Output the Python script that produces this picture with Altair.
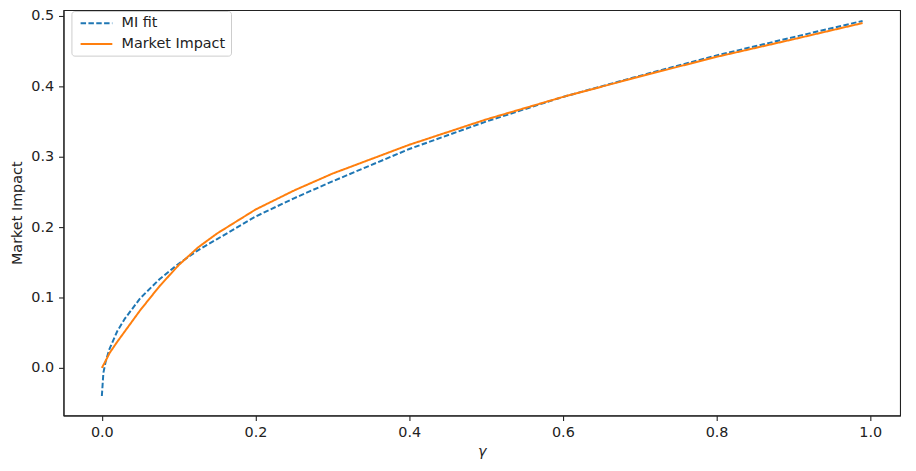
import altair as alt
import pandas as pd

gamma = [0.0, 0.002, 0.005, 0.01, 0.02, 0.03, 0.05, 0.075, 0.1, 0.125, 0.15, 0.2, 0.25, 0.3, 0.4, 0.5, 0.6, 0.7, 0.8, 0.9, 0.99]
mi_fit = [-0.040, -0.007, 0.009, 0.027, 0.052, 0.070, 0.099, 0.126, 0.148, 0.167, 0.183, 0.215, 0.241, 0.265, 0.311, 0.350, 0.385, 0.415, 0.444, 0.470, 0.493]
market_impact = [0.000, 0.004, 0.010, 0.021, 0.037, 0.052, 0.082, 0.116, 0.146, 0.171, 0.191, 0.225, 0.252, 0.276, 0.317, 0.353, 0.385, 0.414, 0.442, 0.467, 0.490]

series_names = ["MI fit", "Market Impact"]
x_ticks = [0.0, 0.2, 0.4, 0.6, 0.8, 1.0]
y_ticks = [0.0, 0.1, 0.2, 0.3, 0.4, 0.5]

rows = []
for i, g in enumerate(gamma):
    rows.append({"gamma": g, "value": mi_fit[i], "series": series_names[0], "order": i})
    rows.append({"gamma": g, "value": market_impact[i], "series": series_names[1], "order": i})
df = pd.DataFrame(rows)

FONT = "DejaVu Sans"
FS = 14.5

legend_kw = dict(title=None, orient="none", legendX=8, legendY=1,
                 symbolType="M-3.2,0H3.2", symbolSize=100, symbolStrokeWidth=2,
                 symbolOffset=13,
                 labelFont=FONT, labelFontSize=FS, labelColor="#222",
                 labelOffset=18, rowPadding=6, padding=5,
                 fillColor="white", strokeColor="#cccccc", cornerRadius=3)

chart = alt.Chart(df).mark_line(strokeWidth=2, clip=True).encode(
    x=alt.X("gamma:Q",
            scale=alt.Scale(domain=[-0.0499, 1.0388], nice=False, zero=False),
            axis=alt.Axis(values=x_ticks, format=".1f", title="γ", grid=False,
                          tickSize=5, labelPadding=5, titlePadding=6,
                          titleFontWeight="normal", titleFontStyle="italic")),
    y=alt.Y("value:Q",
            scale=alt.Scale(domain=[-0.0676, 0.5085], nice=False, zero=False),
            axis=alt.Axis(values=y_ticks, format=".1f", title="Market Impact", grid=False,
                          tickSize=5, labelPadding=5, titlePadding=6,
                          titleFontWeight="normal")),
    color=alt.Color("series:N",
                    scale=alt.Scale(domain=series_names, range=["#1f77b4", "#ff7f0e"]),
                    legend=alt.Legend(**legend_kw)),
    strokeDash=alt.StrokeDash("series:N",
                              scale=alt.Scale(domain=series_names, range=[[5.5, 2.4], [1, 0]]),
                              legend=alt.Legend(**legend_kw)),
    order="order:Q",
).properties(
    width=844,
    height=409,
    background="white",
    autosize=alt.AutoSizeParams(type="none"),
    padding={"left": 56, "top": 0, "right": 8, "bottom": 54},
).configure_view(
    stroke="#222", strokeWidth=1.1
).configure_axis(
    domainColor="#222", domainWidth=1.1, tickColor="#222", tickWidth=1.1,
    labelFont=FONT, labelFontSize=FS, labelColor="#222",
    titleFont=FONT, titleFontSize=FS, titleColor="#222",
)

chart.save("out.html", embed_options={"renderer": "svg", "actions": False})
